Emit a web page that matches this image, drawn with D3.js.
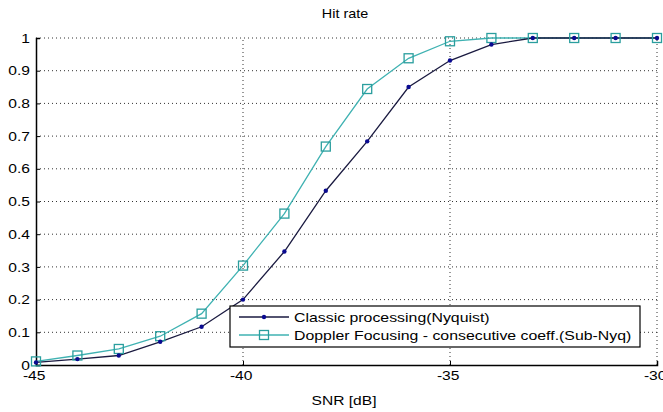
<!DOCTYPE html>
<html>
<head>
<meta charset="utf-8">
<script src="https://cdn.jsdelivr.net/npm/d3@7"></script>
<style>
body{margin:0;background:#fff;}
svg{display:block;font-family:"Liberation Sans",Arial,sans-serif;}
</style>
</head>
<body>
<svg id="c" width="663" height="412"></svg>
<script>
const snr = [-45,-44,-43,-42,-41,-40,-39,-38,-37,-36,-35,-34,-33,-32,-31,-30];
const classic = [0.008,0.018,0.029,0.071,0.117,0.200,0.347,0.533,0.684,0.850,0.931,0.980,1.0,1.0,1.0,1.0];
const doppler = [0.011,0.029,0.049,0.088,0.157,0.304,0.463,0.668,0.844,0.938,0.990,1.0,1.0,1.0,1.0,1.0];
const xTicks = [-45,-40,-35,-30];
const yTicks = [0,0.1,0.2,0.3,0.4,0.5,0.6,0.7,0.8,0.9,1];
const seriesNames = ["Classic processing(Nyquist)","Doppler Focusing - consecutive coeff.(Sub-Nyq)"];

const svg = d3.select("#c");
const L=36, R=657, T=38, B=365;
const SX = 1.2;
const x = d3.scaleLinear().domain([-45,-30]).range([L,R]);
const y = d3.scaleLinear().domain([0,1]).range([B,T]);

// grid
const g = svg.append("g");
g.selectAll(".gx").data(xTicks.slice(1)).enter().append("line")
 .attr("x1",d=>x(d)).attr("x2",d=>x(d)).attr("y1",B).attr("y2",T)
 .attr("stroke","#333").attr("stroke-width",1).attr("stroke-dasharray","1,3");
g.selectAll(".gy").data(yTicks.slice(1)).enter().append("line")
 .attr("x1",L).attr("x2",R).attr("y1",d=>y(d)).attr("y2",d=>y(d))
 .attr("stroke","#333").attr("stroke-width",1).attr("stroke-dasharray","1,3");

// axes
const xa = svg.append("g").attr("transform",`translate(0,${B})`)
 .call(d3.axisBottom(x).tickValues(xTicks).tickSize(-4).tickPadding(6).tickFormat(d=>String(d)));
const ya = svg.append("g").attr("transform",`translate(${L},0)`)
 .call(d3.axisLeft(y).tickValues(yTicks).tickSize(-4).tickPadding(5).tickFormat(d=>d===0?"0":(d===1?"1":d3.format(".1f")(d))));
[xa,ya].forEach(a=>{
 a.select(".domain").attr("stroke","#000").attr("stroke-width",1.5);
 a.selectAll(".tick line").attr("stroke","#000");
 a.selectAll("text").attr("font-size",13).attr("fill","#000")
  .attr("font-family","Liberation Sans, Arial, sans-serif")
  .attr("transform",`scale(${SX},1)`);
});
xa.selectAll("text").attr("dx","-0.15em");

// lines
const line = d3.line().x((d,i)=>x(snr[i])).y(d=>y(d));
svg.append("path").datum(doppler).attr("d",line).attr("fill","none").attr("stroke","#3fb2b2").attr("stroke-width",1.3);
svg.append("path").datum(classic).attr("d",line).attr("fill","none").attr("stroke","#1a1a40").attr("stroke-width",1.3);
svg.selectAll(".sq").data(doppler).enter().append("rect")
 .attr("x",(d,i)=>x(snr[i])-4.5).attr("y",d=>y(d)-4.5).attr("width",9).attr("height",9)
 .attr("fill","none").attr("stroke","#2a9e9e").attr("stroke-width",1.3);
svg.selectAll(".dt").data(classic).enter().append("circle")
 .attr("cx",(d,i)=>x(snr[i])).attr("cy",d=>y(d)).attr("r",2.2).attr("fill","#0a0a90");

// legend
const lg = svg.append("g");
lg.append("rect").attr("x",230).attr("y",306).attr("width",410).attr("height",41)
 .attr("fill","#fff").attr("stroke","#000").attr("stroke-width",1.2);
const rows = [317,335];
lg.append("line").attr("x1",239).attr("x2",289).attr("y1",rows[0]).attr("y2",rows[0]).attr("stroke","#1a1a40").attr("stroke-width",1.3);
lg.append("circle").attr("cx",264).attr("cy",rows[0]).attr("r",2.2).attr("fill","#0a0a90");
lg.append("line").attr("x1",239).attr("x2",289).attr("y1",rows[1]).attr("y2",rows[1]).attr("stroke","#3fb2b2").attr("stroke-width",1.3);
lg.append("rect").attr("x",259.5).attr("y",rows[1]-4.5).attr("width",9).attr("height",9).attr("fill","none").attr("stroke","#2a9e9e").attr("stroke-width",1.3);
lg.selectAll(".lt").data(seriesNames).enter().append("text")
 .attr("transform",(d,i)=>`translate(294,${rows[i]}) scale(1.22,1)`)
 .attr("dy","0.35em").attr("font-size",13).attr("fill","#000")
 .text(d=>d);

// title & label
svg.append("text").attr("transform",`translate(345,18) scale(${SX},1)`).attr("text-anchor","middle").attr("font-size",12).attr("fill","#000").text("Hit rate");
svg.append("text").attr("transform",`translate(344,405) scale(${SX},1)`).attr("text-anchor","middle").attr("font-size",13).attr("fill","#000").text("SNR [dB]");
</script>
</body>
</html>
